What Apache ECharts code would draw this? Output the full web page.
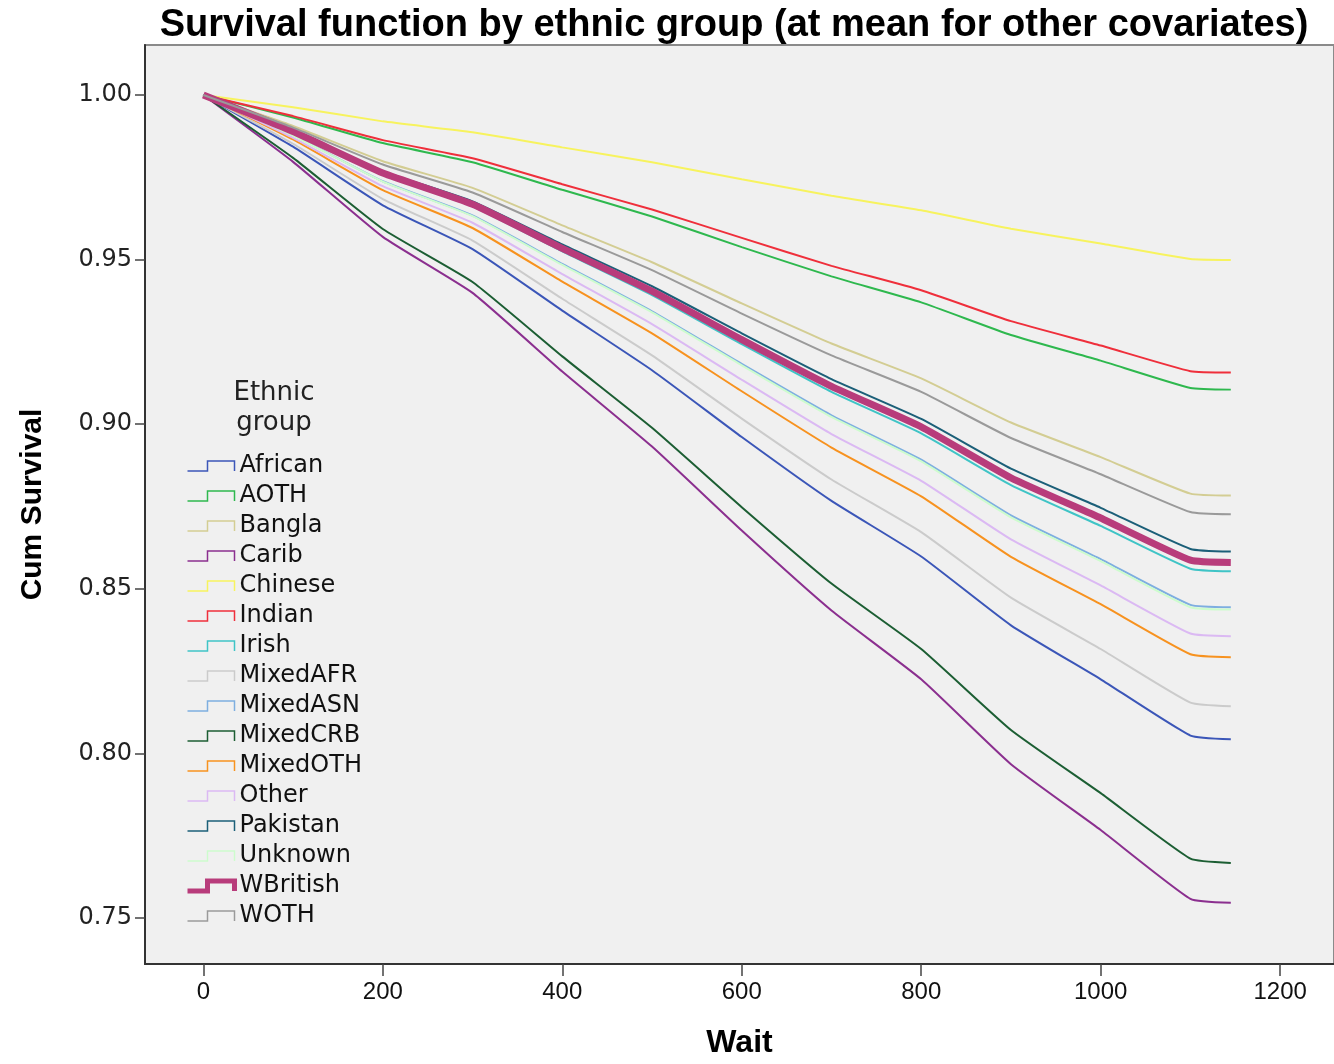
<!DOCTYPE html>
<html>
<head>
<meta charset="utf-8">
<title>Survival function by ethnic group</title>
<script src="https://cdn.jsdelivr.net/npm/echarts@6/dist/echarts.min.js"></script>
<style>
html,body{margin:0;padding:0;background:#fff;}
#chart{width:1334px;height:1064px;}
</style>
</head>
<body>
<div id="chart"></div>
<script>
// x positions (Wait) where curves were read
var wait = [0, 100, 200, 300, 400, 500, 600, 700, 800, 900, 1000, 1100, 1145];

var groups = ["African", "AOTH", "Bangla", "Carib", "Chinese", "Indian", "Irish", "MixedAFR",
	"MixedASN", "MixedCRB", "MixedOTH", "Other", "Pakistan", "Unknown", "WBritish", "WOTH"];

// cum survival per group
var african  = [1, .9843, .9665, .9532, .9345, .9164, .8961, .8767, .8598, .8389, .8225, .8054, .8043];
var aoth     = [1, .9932, .9854, .9796, .9712, .9631, .9538, .9449, .9370, .9271, .9193, .9110, .9105];
var bangla   = [1, .9906, .9799, .9718, .9604, .9492, .9367, .9245, .9139, .9005, .8900, .8789, .8783];
var carib    = [1, .9797, .9569, .9399, .9160, .8932, .8677, .8434, .8225, .7967, .7767, .7558, .7546];
var chinese  = [1, .9963, .9920, .9887, .9841, .9796, .9744, .9694, .9650, .9594, .9549, .9502, .9499];
var indian   = [1, .9936, .9863, .9808, .9729, .9652, .9566, .9481, .9407, .9313, .9239, .9161, .9157];
var irish    = [1, .9887, .9758, .9662, .9525, .9392, .9243, .9098, .8972, .8815, .8691, .8561, .8553];
var mixedAFR = [1, .9852, .9684, .9558, .9381, .9209, .9017, .8832, .8672, .8473, .8317, .8154, .8143];
var mixedASN = [1, .9878, .9738, .9634, .9487, .9343, .9183, .9027, .8892, .8723, .8590, .8451, .8444];
var mixedCRB = [1, .9809, .9593, .9432, .9206, .8989, .8748, .8516, .8317, .8071, .7879, .7680, .7667];
var mixedOTH = [1, .9865, .9711, .9596, .9433, .9276, .9100, .8929, .8781, .8597, .8453, .8301, .8292];
var other    = [1, .9870, .9723, .9612, .9456, .9304, .9135, .8970, .8828, .8650, .8510, .8364, .8356];
var pakistan = [1, .9892, .9769, .9677, .9546, .9419, .9276, .9137, .9016, .8865, .8746, .8621, .8613];
var unknown  = [1, .9877, .9737, .9632, .9484, .9340, .9179, .9022, .8887, .8717, .8584, .8444, .8437];
var wBritish = [1, .9889, .9763, .9668, .9534, .9404, .9257, .9115, .8992, .8837, .8715, .8587, .8580];
var woth     = [1, .9901, .9789, .9704, .9584, .9468, .9336, .9209, .9098, .8958, .8848, .8733, .8726];

var xTicks = [0, 200, 400, 600, 800, 1000, 1200];
var yTicks = [0.75, 0.80, 0.85, 0.90, 0.95, 1.00];

var values = [african, aoth, bangla, carib, chinese, indian, irish, mixedAFR,
	mixedASN, mixedCRB, mixedOTH, other, pakistan, unknown, wBritish, woth];

var colors = ["#3b56b8", "#2eb84e", "#d3cd93", "#8b2f8f", "#f7f35e", "#ef2f3b", "#3fc4c6", "#cbcbcb",
	"#7eaee0", "#1c5e33", "#f7921f", "#dbb9f3", "#1b5f78", "#cdfccd", "#b83c7b", "#9a9a9a"];

var stepIcon = "path://M0,10L20,10L20,0L47,0L47,10";

var series = [], legendData = [];
for(var i=0;i<groups.length;i++){
	var name = groups[i];
	var pts = [];
	for(var k=0;k<wait.length;k++) pts.push([wait[k], values[i][k]]);
	series.push({
		name: name,
		type: "line",
		data: pts,
		showSymbol: false,
		smooth: 0.15,
		color: colors[i],
		lineStyle: {width: name == "WBritish" ? 7 : 2, color: colors[i]}
	});
	legendData.push({
		name: name,
		icon: stepIcon,
		itemStyle: {color: "rgba(0,0,0,0)", borderColor: colors[i], borderWidth: name == "WBritish" ? 5 : 1.5}
	});
}

var chart = echarts.init(document.getElementById("chart"));
chart.setOption({
	backgroundColor: "#fff",
	animation: false,
	title: [{
		text: "Survival function by ethnic group (at mean for other covariates)",
		left: 729, top: 2, textAlign: "center",
		textStyle: {fontFamily: "Liberation Sans, Arial", fontSize: 38, fontWeight: "bold", color: "#000"}
	}, {
		text: "Ethnic\ngroup",
		left: 269, top: 373, textAlign: "center",
		textStyle: {fontFamily: "DejaVu Sans", fontSize: 26, fontWeight: "normal", color: "#222", lineHeight: 30}
	}],
	legend: {
		orient: "vertical",
		left: 185, top: 454,
		padding: 0,
		itemWidth: 47, itemHeight: 10,
		itemGap: 6,
		textStyle: {fontFamily: "DejaVu Sans", fontSize: 24, lineHeight: 24, color: "#111"},
		data: legendData
	},
	grid: {
		left: 145, right: 0, top: 45, bottom: 99,
		show: true, backgroundColor: "#f0f0f0",
		borderColor: "#8a8a8a", borderWidth: 2
	},
	xAxis: {
		type: "value",
		min: -65, max: 1260,
		name: "Wait", nameLocation: "middle", nameGap: 63,
		nameTextStyle: {fontFamily: "Liberation Sans, Arial", fontSize: 32, fontWeight: "bold", color: "#000"},
		axisLine: {onZero: false, lineStyle: {color: "#333", width: 2}},
		axisTick: {show: true, length: 12, customValues: xTicks, lineStyle: {color: "#444", width: 1.5}},
		axisLabel: {customValues: xTicks, margin: 16,
			fontFamily: "Liberation Sans Narrow, Liberation Sans", fontSize: 24, color: "#111",
			formatter: function(v){ return String(v); }},
		splitLine: {show: false}
	},
	yAxis: {
		type: "value",
		min: 0.736, max: 1.0152,
		name: "Cum Survival", nameLocation: "middle", nameGap: 97, nameRotate: 90,
		nameTextStyle: {fontFamily: "Liberation Sans, Arial", fontSize: 30, fontWeight: "bold", color: "#000"},
		axisLine: {show: true, onZero: false, lineStyle: {color: "#333", width: 2}},
		axisTick: {show: true, length: 10, customValues: yTicks, lineStyle: {color: "#444", width: 1.5}},
		axisLabel: {customValues: yTicks, margin: 13,
			fontFamily: "DejaVu Sans", fontSize: 24, color: "#222",
			formatter: function(v){ return v.toFixed(2); }},
		splitLine: {show: false}
	},
	series: series
});
</script>
</body>
</html>
